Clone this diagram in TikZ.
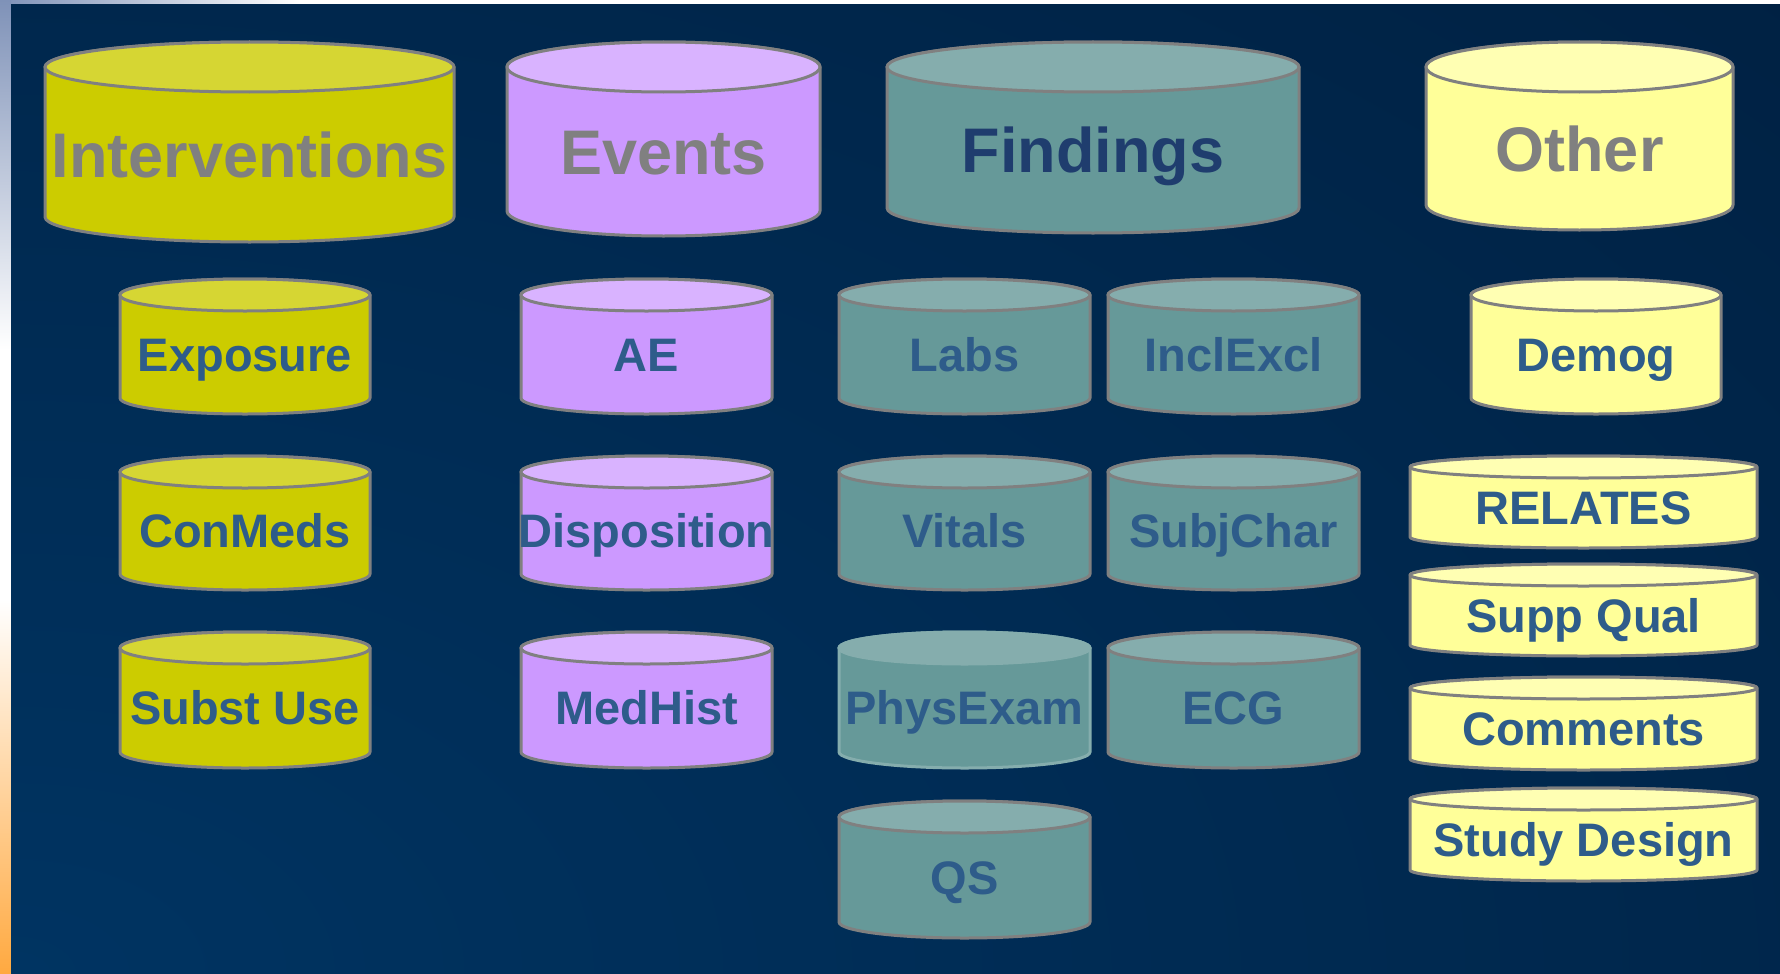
\documentclass[tikz,border=0pt]{standalone}
\usepackage{fontspec}
\setmainfont{Liberation Sans}
\definecolor{IntBody}{HTML}{CCCC00}
\definecolor{IntTop}{HTML}{D6D633}
\definecolor{EvtBody}{HTML}{CC99FF}
\definecolor{EvtTop}{HTML}{D9B3FF}
\definecolor{FndBody}{HTML}{669999}
\definecolor{FndTop}{HTML}{85ADAD}
\definecolor{OthBody}{HTML}{FFFF99}
\definecolor{OthTop}{HTML}{FFFFB3}
\definecolor{Edge}{HTML}{808080}
\definecolor{LabelBlue}{HTML}{2E5C8A}
\definecolor{LabelDark}{HTML}{1F3D6E}
\definecolor{LabelGray}{HTML}{808080}
\definecolor{BgInner}{HTML}{003462}
\definecolor{BgOuter}{HTML}{00122A}
\definecolor{StripBlue}{HTML}{7F92B8}
\definecolor{StripOrange}{HTML}{FFA940}
\tikzset{
  cyledge/.style={draw=Edge, line width=3pt, line join=round},
  int body/.style={cyledge, fill=IntBody},
  int top/.style={cyledge, fill=IntTop},
  evt body/.style={cyledge, fill=EvtBody},
  evt top/.style={cyledge, fill=EvtTop},
  fnd body/.style={cyledge, fill=FndBody},
  fnd top/.style={cyledge, fill=FndTop},
  fndpe body/.style={draw=FndTop, line width=3pt, fill=FndBody},
  fndpe top/.style={draw=FndTop, line width=3pt, fill=FndTop},
  oth body/.style={cyledge, fill=OthBody},
  oth top/.style={cyledge, fill=OthTop},
  bigtext/.style={font=\fontsize{63}{70}\selectfont\bfseries, inner sep=0pt,
    text height=45.1pt, text depth=0pt, anchor=center},
  smalltext/.style={font=\fontsize{47}{52}\selectfont\bfseries, inner sep=0pt,
    text height=33.7pt, text depth=0pt, anchor=center, text=LabelBlue},
}
% #1 name, #2 left, #3 right, #4 top, #5 bottom, #6 ellipse y radius,
% #7 colour kind, #8 text style, #9 text
\newcommand{\dbcyl}[9]{%
  \pgfmathsetmacro\cylcx{(#2+#3)/2}%
  \pgfmathsetmacro\cylrx{(#3-#2)/2}%
  \pgfmathsetmacro\cylty{-(#4)-(#6)}%
  \pgfmathsetmacro\cylby{-(#5)+(#6)}%
  \pgfmathsetmacro\cyltxt{-((#4)+(#5))/2-0.5*(#6)}%
  \path[#7 body] (#2,\cylty) -- (#2,\cylby)
    arc[start angle=180, end angle=360, x radius=\cylrx pt, y radius=#6pt]
    -- (#3,\cylty)
    arc[start angle=0, end angle=180, x radius=\cylrx pt, y radius=#6pt] -- cycle;
  \path[#7 top] (\cylcx,\cylty) ellipse[x radius=\cylrx pt, y radius=#6pt];
  \node[#8] (#1) at (\cylcx,\cyltxt) {#9};
}
\begin{document}
\begin{tikzpicture}[x=1pt, y=1pt]
\useasboundingbox (0,0) rectangle (1780,-974);
% page edges
\fill[white] (0,0) rectangle (1780,-974);
\shade[left color=StripBlue, right color=white] (0,0) rectangle (300,-5);
\shade[top color=StripBlue, bottom color=white] (0,0) rectangle (11,-350);
\shade[top color=white, bottom color=StripOrange] (0,-600) rectangle (11,-974);
% main background
\begin{scope}
  \clip (11,-5) rectangle (1780,-974);
  \shade[inner color=BgInner, outer color=BgOuter] (11,-974) ellipse[x radius=4400pt, y radius=2600pt];
\end{scope}
% big cylinders
\dbcyl{interventions}{45}{454}{42}{242}{25}{int}{bigtext,text=LabelGray}{Interventions}
\dbcyl{events}{507}{820}{42}{236}{25}{evt}{bigtext,text=LabelGray}{Events}
\dbcyl{findings}{887}{1299}{42}{233}{25}{fnd}{bigtext,text=LabelDark}{Findings}
\dbcyl{other}{1426}{1733}{42}{230}{25}{oth}{bigtext,text=LabelGray}{Other}
% interventions column
\dbcyl{exposure}{120}{370}{279}{414}{16}{int}{smalltext}{Exposure}
\dbcyl{conmeds}{120}{370}{456}{590}{16}{int}{smalltext}{ConMeds}
\dbcyl{substuse}{120}{370}{632}{768}{16}{int}{smalltext}{Subst Use}
% events column
\dbcyl{ae}{521}{772}{279}{414}{16}{evt}{smalltext}{AE}
\dbcyl{disposition}{521}{772}{456}{590}{16}{evt}{smalltext}{Disposition}
\dbcyl{medhist}{521}{772}{632}{768}{16}{evt}{smalltext}{MedHist}
% findings columns
\dbcyl{labs}{839}{1090}{279}{414}{16}{fnd}{smalltext}{Labs}
\dbcyl{inclexcl}{1108}{1359}{279}{414}{16}{fnd}{smalltext}{InclExcl}
\dbcyl{vitals}{839}{1090}{456}{590}{16}{fnd}{smalltext}{Vitals}
\dbcyl{subjchar}{1108}{1359}{456}{590}{16}{fnd}{smalltext}{SubjChar}
\dbcyl{physexam}{839}{1090}{632}{768}{16}{fndpe}{smalltext}{PhysExam}
\dbcyl{ecg}{1108}{1359}{632}{768}{16}{fnd}{smalltext}{ECG}
\dbcyl{qs}{839}{1090}{801}{938}{16}{fnd}{smalltext}{QS}
% other column
\dbcyl{demog}{1471}{1721}{279}{414}{16}{oth}{smalltext}{Demog}
\dbcyl{relates}{1410}{1757}{456}{548}{11}{oth}{smalltext}{RELATES}
\dbcyl{suppqual}{1410}{1757}{564}{656}{11}{oth}{smalltext}{Supp Qual}
\dbcyl{comments}{1410}{1757}{677}{770}{11}{oth}{smalltext}{Comments}
\dbcyl{studydesign}{1410}{1757}{788}{881}{11}{oth}{smalltext}{Study Design}
\end{tikzpicture}
\end{document}
